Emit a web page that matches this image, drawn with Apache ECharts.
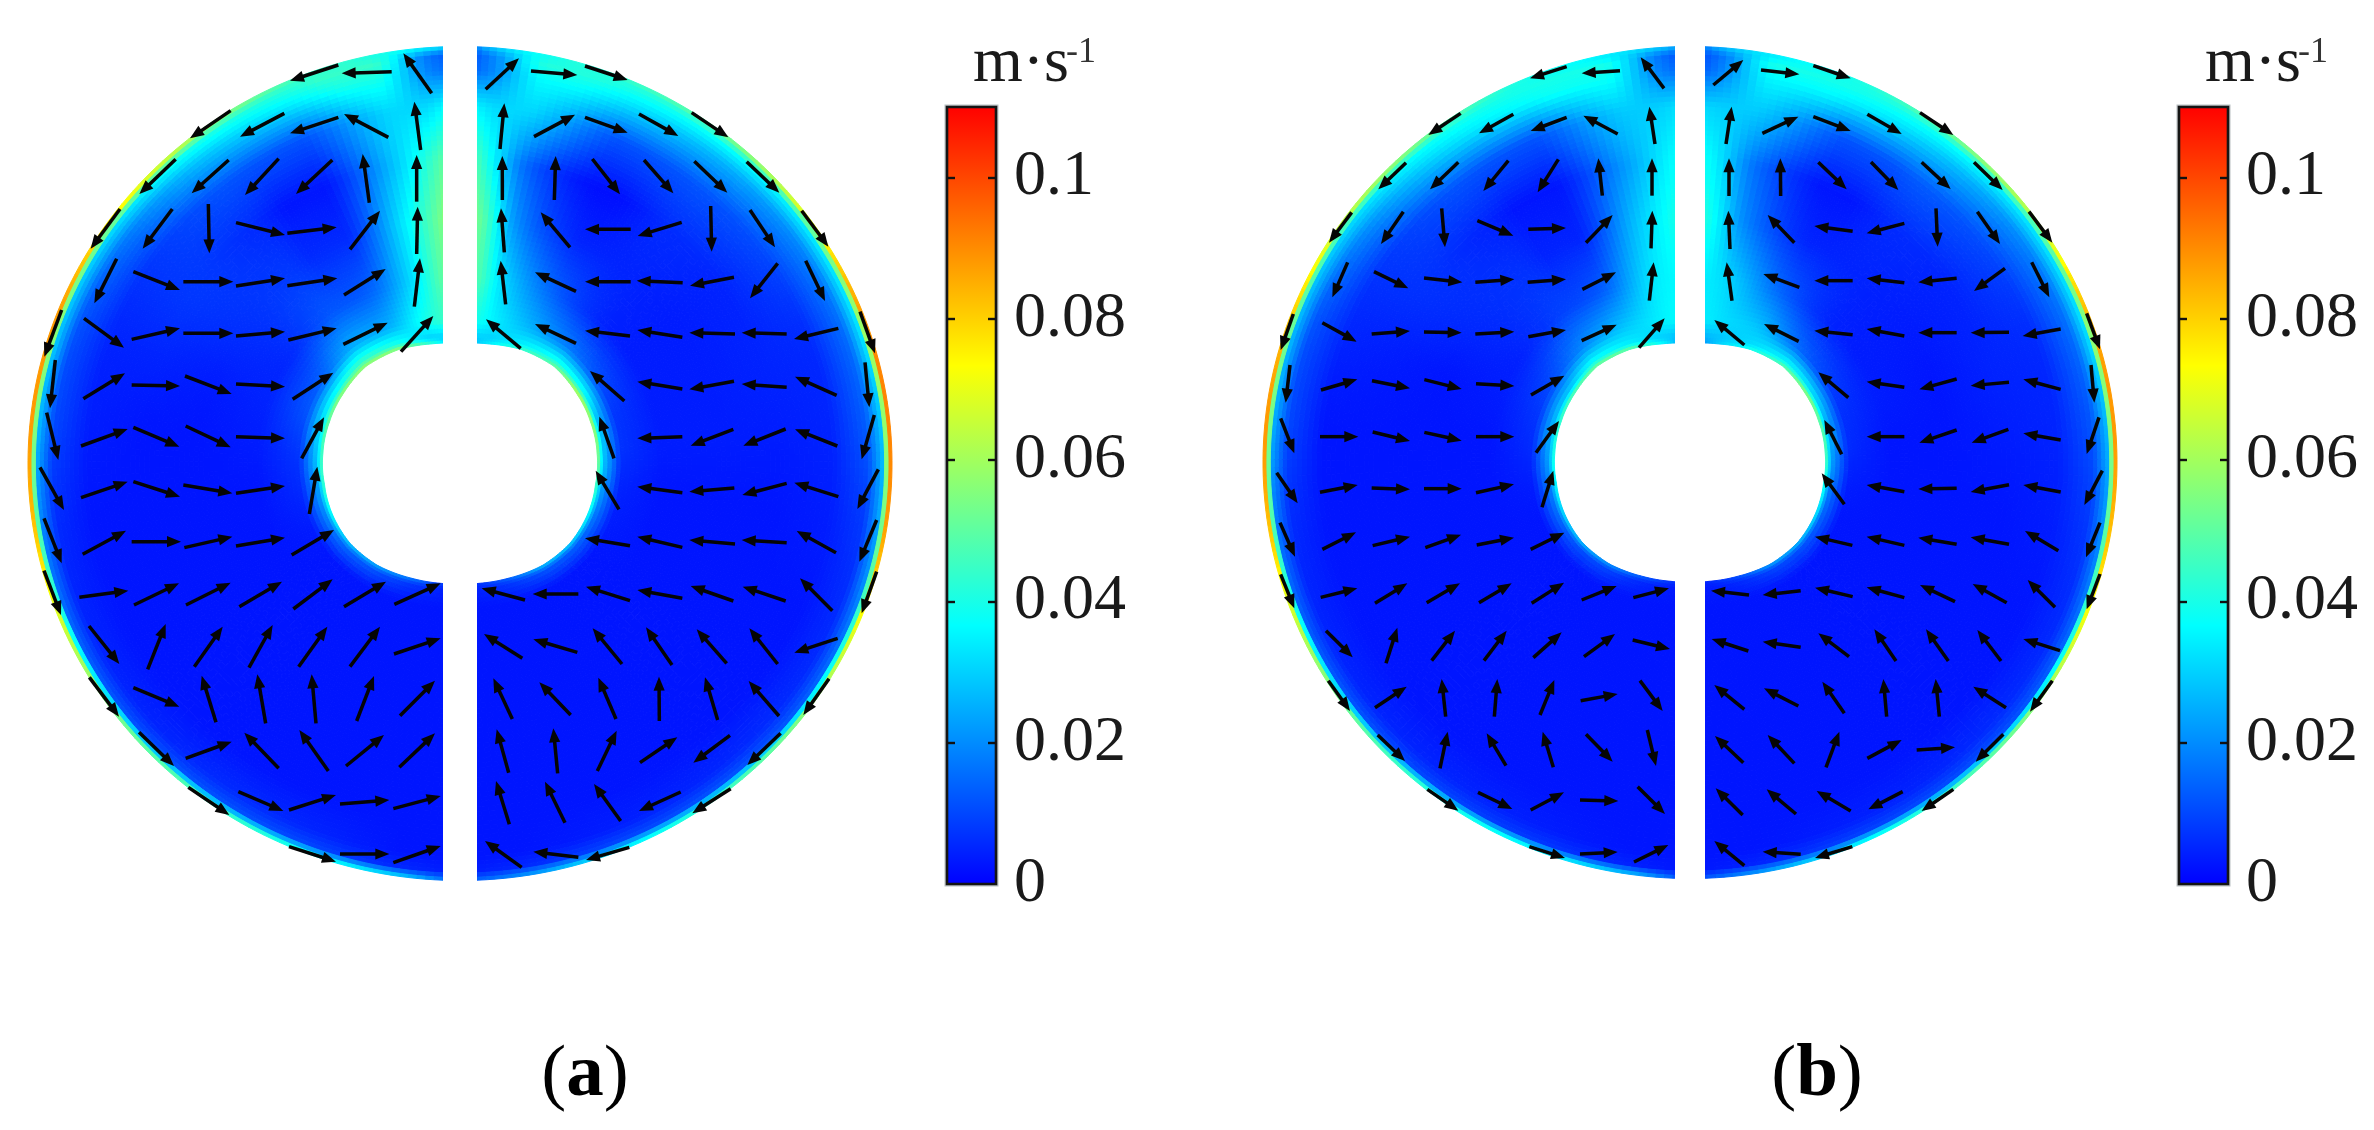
<!DOCTYPE html>
<html><head><meta charset="utf-8">
<style>html,body{margin:0;padding:0;background:#fff}#c{width:2374px;height:1130px}</style>
<script src="https://cdn.jsdelivr.net/npm/echarts@6/dist/echarts.min.js"></script>
</head><body><div id="c"></div>
<script>
// ---- speed scale
const speedTicks = [0, 0.02, 0.04, 0.06, 0.08, 0.1];
const speedMax = 0.11;
const jetStops = ['#0000ff', '#00ffff', '#ffff00', '#ff0000'];
const panelLabels = ['a', 'b'];
const unitText = ['m·s', '-1'];

// ---- mesh of the speed field: rings from hole wall (0) to outer wall (1), spokes in degrees from the top
const ringFractions = [0, .02, .08, .22, .42, .62, .8, .92, .975, .99, 1];
const spokeAngles = [0, 5, 12, 25, 40, 55, 70, 85, 100, 115, 130, 145, 160, 172, 180];
const holeOutline = [1, 1, 1.01, 1.04, 1.05, 1.02, 1, .99, .99, 1.01, 1.03, 1.03, 1.01, 1, 1];

// speed (m/s) read at each ring (row) and spoke (column)
const speedA_left = [
 [.012,.030,.045,.058,.060,.060,.055,.050,.048,.040,.030,.025,.018,.010,.005],
 [.020,.030,.030,.040,.045,.040,.035,.030,.025,.020,.015,.012,.008,.005,.004],
 [.045,.045,.040,.026,.025,.015,.012,.008,.006,.004,.003,.003,.003,.003,.003],
 [.052,.050,.035,.015,.012,.006,.005,.004,.003,.003,.003,.003,.003,.003,.003],
 [.065,.052,.035,.006,.008,.007,.004,.003,.003,.003,.003,.003,.003,.003,.003],
 [.058,.045,.028,.003,.006,.008,.005,.003,.003,.003,.003,.003,.003,.003,.003],
 [.042,.032,.030,.012,.012,.008,.005,.004,.003,.003,.003,.003,.003,.003,.003],
 [.015,.020,.040,.034,.028,.018,.012,.010,.006,.005,.005,.006,.005,.003,.003],
 [.012,.018,.045,.042,.040,.033,.030,.028,.020,.015,.012,.012,.010,.006,.004],
 [.020,.030,.040,.045,.058,.070,.082,.082,.075,.060,.048,.042,.034,.024,.010],
 [.030,.035,.042,.050,.065,.082,.094,.094,.087,.068,.055,.048,.040,.030,.012]];
const speedA_right = [
 [.012,.025,.035,.045,.052,.065,.065,.060,.050,.040,.032,.028,.015,.008,.004],
 [.015,.028,.030,.035,.040,.040,.030,.030,.025,.018,.014,.012,.008,.005,.004],
 [.040,.040,.035,.026,.018,.012,.008,.007,.005,.004,.003,.003,.003,.003,.003],
 [.048,.048,.032,.016,.006,.004,.004,.004,.003,.003,.003,.003,.003,.003,.003],
 [.058,.050,.022,.006,.005,.004,.004,.004,.003,.003,.003,.003,.003,.003,.003],
 [.058,.040,.015,.002,.006,.005,.005,.004,.003,.003,.003,.003,.003,.003,.003],
 [.040,.032,.030,.012,.012,.010,.006,.005,.004,.003,.003,.003,.003,.003,.003],
 [.012,.020,.037,.032,.026,.020,.016,.013,.008,.006,.006,.005,.004,.003,.003],
 [.008,.020,.042,.040,.038,.035,.035,.030,.025,.018,.013,.012,.010,.006,.004],
 [.010,.026,.038,.042,.050,.066,.082,.085,.080,.064,.050,.040,.030,.018,.010],
 [.012,.030,.040,.047,.056,.077,.094,.097,.092,.072,.056,.046,.034,.020,.012]];
const speedB_left = [
 [.010,.024,.038,.052,.054,.052,.048,.044,.040,.034,.028,.022,.014,.008,.004],
 [.014,.026,.030,.035,.038,.030,.028,.025,.020,.016,.012,.010,.006,.004,.003],
 [.032,.036,.034,.028,.020,.012,.008,.006,.004,.003,.003,.003,.003,.003,.003],
 [.036,.036,.032,.014,.009,.005,.004,.003,.003,.003,.003,.003,.003,.003,.003],
 [.042,.038,.028,.005,.007,.006,.003,.003,.003,.003,.003,.003,.003,.003,.003],
 [.040,.034,.022,.003,.005,.007,.004,.003,.003,.003,.003,.003,.003,.003,.003],
 [.034,.030,.028,.012,.012,.008,.005,.003,.003,.003,.003,.003,.003,.003,.003],
 [.014,.020,.038,.036,.030,.020,.012,.010,.006,.005,.005,.005,.004,.003,.003],
 [.010,.018,.040,.040,.038,.032,.028,.026,.018,.014,.012,.010,.008,.005,.003],
 [.016,.026,.034,.040,.050,.060,.075,.082,.075,.058,.046,.038,.032,.022,.008],
 [.020,.030,.036,.042,.056,.070,.087,.094,.087,.066,.052,.042,.036,.026,.010]];
const speedB_right = [
 [.010,.020,.030,.040,.050,.060,.056,.052,.044,.036,.028,.024,.012,.006,.003],
 [.012,.024,.028,.032,.036,.034,.028,.025,.020,.015,.012,.010,.006,.004,.003],
 [.030,.034,.032,.028,.016,.010,.007,.006,.004,.003,.003,.003,.003,.003,.003],
 [.034,.034,.030,.016,.006,.004,.004,.003,.003,.003,.003,.003,.003,.003,.003],
 [.044,.038,.020,.006,.005,.004,.003,.003,.003,.003,.003,.003,.003,.003,.003],
 [.042,.034,.016,.003,.006,.005,.005,.004,.003,.003,.003,.003,.003,.003,.003],
 [.032,.030,.028,.012,.013,.010,.006,.005,.004,.003,.003,.003,.003,.003,.003],
 [.010,.020,.036,.034,.028,.020,.016,.012,.008,.006,.006,.005,.004,.003,.003],
 [.008,.018,.040,.040,.038,.034,.034,.028,.022,.016,.012,.011,.009,.005,.003],
 [.010,.024,.034,.040,.050,.060,.078,.082,.076,.064,.050,.040,.030,.018,.008],
 [.012,.028,.036,.042,.056,.070,.090,.094,.088,.072,.056,.046,.034,.020,.010]];

// ---- velocity arrows read per quadrant: [tailX, tailY, tipX, tipY]
const arrowsA_TL = [[1295,220,1210,100],[1175,155,1025,160],[1015,135,870,182],[1262,390,1243,245],[1165,352,1032,282],[1015,292,870,340],[853,280,720,350],[692,272,570,355],[1250,545,1250,405],[1108,548,1088,402],[997,420,888,522],[836,416,735,525],[686,420,575,520],[527,418,418,522],[1250,702,1253,560],[1050,688,1140,572],[862,640,1010,622],[708,608,855,645],[625,552,628,700],[517,567,428,686],[360,567,272,686],[1243,860,1260,715],[1032,825,1157,747],[862,797,1012,775],[708,798,855,775],[550,785,700,785],[400,755,540,810],[350,716,283,850],[185,870,133,1010],[1203,995,1300,888],[1030,973,1163,908],[865,960,1010,925],[708,948,855,935],[550,940,700,940],[395,958,540,925],[252,895,372,983],[878,1138,1000,1058],[708,1092,855,1100],[555,1068,695,1122],[395,1095,540,1098],[250,1136,375,1060],[166,1020,150,1165],[905,1315,972,1192],[708,1250,855,1255],[557,1218,692,1282],[400,1222,538,1280],[243,1278,383,1227],[140,1178,175,1320]];
const arrowsA_BL = [[928,192,952,50],[708,130,855,108],[550,105,697,130],[400,95,540,140],[243,143,383,95],[120,52,192,180],[875,315,1002,240],[708,288,855,263],[553,293,697,260],[395,275,543,275],[248,313,378,242],[132,205,185,340],[1183,463,1322,400],[1032,470,1158,395],[880,477,998,388],[718,470,846,395],[558,465,692,398],[402,465,537,400],[238,442,385,422],[132,362,183,495],[1182,612,1322,565],[1050,650,1140,530],[896,650,982,530],[747,653,818,525],[583,650,668,530],[443,658,497,522],[267,528,358,642],[1200,797,1305,692],[1070,813,1122,678],[948,820,935,673],[797,820,772,673],[648,817,605,677],[400,713,538,770],[268,682,357,800],[1198,952,1305,850],[1038,948,1152,855],[985,963,898,840],[836,955,733,848],[557,925,695,875],[417,847,522,948],[1180,1076,1322,1038],[1020,1062,1168,1050],[867,1080,1008,1035],[715,1025,850,1083],[565,1012,688,1095],[1180,1238,1322,1188],[1020,1212,1168,1212],[867,1190,1008,1235]];
const arrowsA_TR = [[77,208,177,115],[213,153,352,165],[375,138,503,180],[120,387,133,250],[222,350,345,284],[375,292,503,338],[537,282,655,348],[695,278,805,352],[127,540,127,408],[283,540,287,408],[397,417,480,523],[552,420,640,520],[703,424,802,518],[860,425,958,518],[133,697,123,565],[330,682,242,577],[512,628,375,628],[665,607,533,648],[752,558,755,695],[870,570,945,682],[1025,572,1105,680],[137,853,122,722],[348,814,225,757],[512,785,375,785],[668,788,530,782],[822,772,690,797],[953,730,870,835],[1037,722,1095,843],[1200,875,1245,1000],[182,985,78,898],[348,970,225,912],[510,948,375,932],[667,952,532,930],[825,942,688,938],[980,942,845,938],[1135,925,1002,957],[493,1143,390,1053],[667,1107,532,1085],[822,1084,688,1108],[980,1102,845,1092],[1130,1126,1005,1070],[1215,1027,1228,1162],[462,1315,418,1190],[667,1250,532,1255],[820,1228,692,1277],[977,1227,850,1277],[1132,1278,1005,1228],[1243,1185,1205,1318]];
const arrowsA_BR = [[477,178,407,62],[667,128,532,110],[823,114,688,125],[980,100,847,135],[1135,140,1003,98],[1255,58,1192,177],[510,287,375,265],[667,292,532,260],[825,282,688,270],[980,278,845,270],[1128,308,1010,243],[1250,210,1198,335],[195,450,65,415],[355,432,218,432],[510,452,378,410],[667,445,532,420],[820,453,692,408],[977,453,848,410],[1117,482,1020,385],[1250,365,1205,490],[187,625,72,552],[352,607,220,568],[486,642,398,535],[636,645,558,532],[800,640,710,538],[953,642,868,535],[1133,565,1003,608],[157,807,100,685],[332,795,238,697],[468,807,415,683],[598,813,597,680],[773,810,735,682],[957,798,866,693],[1107,686,1030,795],[146,968,110,838],[293,970,280,835],[412,963,470,842],[540,938,652,862],[810,856,700,938],[962,850,862,945],[148,1123,108,993],[315,1118,255,995],[482,1113,402,1002],[662,1026,537,1083],[812,1016,697,1090],[185,1252,75,1173],[355,1222,220,1205],[508,1192,378,1230]];
const arrowsB_TL = [[1272,205,1202,112],[1140,152,1025,160],[980,140,870,175],[1245,372,1228,260],[1133,342,1030,287],[980,292,872,333],[820,283,717,340],[662,280,565,345],[1236,527,1236,415],[1087,527,1075,415],[955,418,893,517],[805,422,730,513],[655,427,570,508],[498,428,415,508],[1233,685,1237,572],[1038,668,1118,585],[865,628,978,624],[712,602,820,647],[605,565,615,682],[490,575,423,672],[335,577,267,668],[1228,842,1241,727],[1027,808,1128,757],[863,787,978,778],[706,787,823,778],[552,774,667,787],[402,755,505,805],[323,727,277,832],[160,882,122,990],[1197,983,1274,895],[1025,962,1130,914],[865,950,978,930],[706,942,823,935],[552,936,665,938],[395,942,510,933],[247,908,350,965],[873,1125,973,1067],[708,1091,823,1098],[553,1079,665,1107],[396,1082,510,1105],[243,1110,352,1078],[150,1035,137,1148],[888,1298,957,1203],[708,1250,823,1250],[553,1237,665,1262],[398,1236,510,1263],[240,1250,355,1250],[122,1195,163,1300]];
const arrowsB_BL = [[906,172,940,62],[708,128,822,103],[552,116,665,116],[395,114,510,118],[240,127,353,105],[110,68,173,160],[872,298,973,248],[710,285,822,263],[556,293,663,254],[398,287,510,260],[247,298,348,247],[120,218,165,320],[1180,443,1287,415],[1025,450,1130,408],[875,460,972,398],[717,458,815,400],[560,458,660,400],[405,460,502,400],[242,442,352,415],[122,373,163,475],[1178,570,1290,597],[1032,620,1125,552],[880,623,965,547],[732,632,800,542],[575,632,645,542],[438,640,472,533],[258,542,338,622],[1200,692,1268,783],[1022,752,1133,732],[900,795,943,690],[763,800,772,687],[617,800,605,687],[405,773,500,710],[265,692,330,783],[1222,840,1248,948],[1038,853,1118,935],[940,952,908,845],[798,947,740,850],[600,955,623,845],[413,855,495,933],[1193,1010,1275,1092],[1020,1050,1135,1053],[872,1080,972,1027],[714,1027,817,1077],[562,1018,655,1082],[1182,1236,1285,1185],[1020,1212,1133,1206],[868,1190,975,1224]];
const arrowsB_TR = [[70,195,160,120],[213,150,328,163],[370,137,482,175],[108,372,125,260],[217,340,325,290],[370,290,482,333],[532,283,635,342],[690,278,790,345],[117,528,117,415],[272,528,271,415],[385,427,470,508],[543,426,625,510],[695,427,782,507],[852,427,938,510],[120,687,115,572],[313,668,233,585],[488,634,373,618],[643,610,530,640],[738,565,743,680],[862,575,930,672],[1017,575,1087,668],[126,842,110,727],[328,802,220,762],[488,782,373,782],[643,788,530,775],[800,775,685,787],[945,745,852,813],[1025,727,1078,832],[1190,880,1230,988],[163,975,73,900],[326,964,222,912],[488,944,373,932],[643,948,530,927],[800,938,685,938],[957,937,842,938],[1112,927,998,948],[475,1133,385,1057],[643,1102,530,1085],[800,1077,688,1108],[957,1087,842,1097],[1112,1108,1000,1078],[1203,1035,1213,1148],[455,1303,403,1200],[643,1250,530,1250],[800,1230,688,1268],[955,1228,845,1268],[1112,1260,1000,1240],[1227,1192,1190,1302]];
const arrowsB_BR = [[463,163,395,70],[643,125,530,105],[800,115,685,117],[957,104,842,126],[1112,126,1000,105],[1237,62,1183,165],[487,286,375,260],[643,286,530,260],[800,283,685,263],[957,283,842,262],[1105,302,1005,243],[1230,218,1188,322],[177,435,63,422],[332,422,218,435],[488,440,375,413],[643,443,530,412],[795,455,690,405],[950,458,848,402],[1095,472,1013,390],[1230,372,1190,478],[175,603,65,567],[332,592,218,575],[477,620,385,550],[618,633,553,538],[775,633,708,538],[933,633,862,540],[1110,602,1000,567],[163,778,73,705],[325,768,222,715],[463,790,397,695],[590,800,580,687],[748,800,737,687],[948,773,850,710],[1087,692,1020,785],[160,938,75,858],[313,940,233,855],[408,952,448,845],[532,925,635,870],[680,900,795,892],[940,853,857,935],[158,1095,77,1015],[318,1092,230,1018],[482,1083,380,1023],[638,1025,535,1078],[790,1018,695,1083],[163,1247,73,1173],[332,1213,218,1205],[487,1190,375,1224]];

// ---- layout
const TEXT_FONT = '"Liberation Serif", serif';
const panels = [
 {cx:460, cy:463.5, rx:432, ry:417, hx:139, hy:121, slot:17, barX:947, left:speedA_left, right:speedA_right,
  quads:[[arrowsA_TL,0,20],[arrowsA_TR,460,20],[arrowsA_BL,0,450],[arrowsA_BR,460,450]], labelX:585},
 {cx:1690, cy:462.5, rx:427, ry:416, hx:137, hy:120, slot:15, barX:2179, left:speedB_left, right:speedB_right,
  quads:[[arrowsB_TL,1240,20],[arrowsB_TR,1690,20],[arrowsB_BL,1240,450],[arrowsB_BR,1690,450]], labelX:1817}
];
const HALF = 450, BAR_TOP = 107, BAR_H = 777, BAR_W = 49;

function speedColor(v){
  const t = Math.max(0, Math.min(1, v/speedMax)) * (jetStops.length-1);
  const i = Math.min(jetStops.length-2, Math.floor(t)), f = t-i;
  const h = s => [parseInt(s.slice(1,3),16), parseInt(s.slice(3,5),16), parseInt(s.slice(5,7),16)];
  const a = h(jetStops[i]), b = h(jetStops[i+1]);
  return 'rgb(' + a.map((c,k)=>Math.round(c+(b[k]-c)*f)).join(',') + ')';
}
// smooth shading between the read spokes (Hermite across angle, straight across rings)
function spokeShade(row, s, w){
  const a = spokeAngles, n = a.length-1;
  const slope = k => k<=0 ? (row[1]-row[0])/(a[1]-a[0]) : k>=n ? (row[n]-row[n-1])/(a[n]-a[n-1]) : (row[k+1]-row[k-1])/(a[k+1]-a[k-1]);
  const h = a[s+1]-a[s], w2=w*w, w3=w2*w;
  const lo = Math.min(row[s],row[s+1]), hi = Math.max(row[s],row[s+1]);
  const v = (2*w3-3*w2+1)*row[s] + (w3-2*w2+w)*h*slope(s) + (-2*w3+3*w2)*row[s+1] + (w3-w2)*h*slope(s+1);
  return Math.max(lo, Math.min(hi, v));
}
function holeScale(deg){
  let k = 0; while(k<spokeAngles.length-2 && deg>spokeAngles[k+1]) k++;
  const f = (deg-spokeAngles[k])/(spokeAngles[k+1]-spokeAngles[k]);
  return holeOutline[k]+(holeOutline[k+1]-holeOutline[k])*f;
}

function heatSeries(p, idx){
  const cells = [];
  [0,1].forEach(sideIdx=>{
    for(let r=0;r<ringFractions.length-1;r++) for(let s=0;s<spokeAngles.length-1;s++) cells.push([sideIdx,r,s]);
  });
  const pt = (side,ring,deg)=>{
    const a = deg*Math.PI/180, q = holeScale(deg);
    return [side*(p.hx*q+(p.rx-p.hx*q)*ring)*Math.sin(a), (p.hy*q+(p.ry-p.hy*q)*ring)*Math.cos(a)];
  };
  return {
    type:'custom', xAxisIndex:idx, yAxisIndex:idx, silent:true, animation:false, progressive:0, clip:false, z:2,
    data:cells,
    renderItem(params, api){
      const sideIdx = api.value(0), r = api.value(1), s = api.value(2);
      const side = sideIdx ? 1 : -1, m = sideIdx ? p.right : p.left;
      const r0 = ringFractions[r], r1 = ringFractions[r+1], a0 = spokeAngles[s], a1 = spokeAngles[s+1];
      const ns = Math.max(1, Math.ceil((r1-r0)*(p.rx-p.hx)/5));
      const nt = Math.max(3, Math.ceil((a1-a0)/1.2));
      const children = [];
      for(let j=0;j<nt;j++){
        const wc=(j+.5)/nt, lo=spokeShade(m[r],s,wc), hi=spokeShade(m[r+1],s,wc);
        const A0=a0+(a1-a0)*j/nt, A1=a0+(a1-a0)*(j+1)/nt;
        for(let i=0;i<ns;i++){
          const uc=(i+.5)/ns, v=lo+(hi-lo)*uc;
          const R0=r0+(r1-r0)*i/ns, R1=r0+(r1-r0)*(i+1)/ns;
          const c = speedColor(v);
          children.push({type:'polygon', silent:true,
            shape:{points:[pt(side,R0,A0),pt(side,R1,A0),pt(side,R1,A1),pt(side,R0,A1)].map(q=>api.coord(q))},
            style:{fill:c, stroke:c, lineWidth:1}});
        }
      }
      return {type:'group', children};
    }
  };
}
function slotSeries(p, idx){
  return {type:'custom', xAxisIndex:idx, yAxisIndex:idx, silent:true, animation:false, clip:false, z:3,
    data:[[-p.slot, HALF, p.slot, -HALF]],
    renderItem(params, api){
      const a = api.coord([api.value(0),api.value(1)]), b = api.coord([api.value(2),api.value(3)]);
      return {type:'rect', shape:{x:a[0],y:a[1],width:b[0]-a[0],height:b[1]-a[1]}, style:{fill:'#fff'}};
    }};
}
function arrowSeries(p, idx){
  const data = [];
  p.quads.forEach(([list,ox,oy])=>list.forEach(q=>{
    data.push([q[0]/3+ox-p.cx, -(q[1]/3+oy-p.cy), q[2]/3+ox-p.cx, -(q[3]/3+oy-p.cy)]);
  }));
  return {type:'custom', xAxisIndex:idx, yAxisIndex:idx, silent:true, animation:false, clip:false, z:4,
    encode:{x:[0,2], y:[1,3]}, data,
    renderItem(params, api){
      const a = api.coord([api.value(0),api.value(1)]), b = api.coord([api.value(2),api.value(3)]);
      const dx=b[0]-a[0], dy=b[1]-a[1], L=Math.hypot(dx,dy)||1, ux=dx/L, uy=dy/L;
      const hl=14, hw=5.6, bx=b[0]-ux*hl, by=b[1]-uy*hl;
      return {type:'group', children:[
        {type:'line', shape:{x1:a[0],y1:a[1],x2:bx+ux*2,y2:by+uy*2}, style:{stroke:'#050505',lineWidth:3.5}},
        {type:'polygon', shape:{points:[[b[0],b[1]],[bx-uy*hw,by+ux*hw],[bx+uy*hw,by-ux*hw]]}, style:{fill:'#050505'}}
      ]};
    }};
}
function barSeries(xi, yi){
  return {type:'custom', xAxisIndex:xi, yAxisIndex:yi, silent:true, animation:false, clip:false, z:2,
    data:[[0, speedMax, 1, 0]],
    renderItem(params, api){
      const a = api.coord([api.value(0),api.value(1)]), b = api.coord([api.value(2),api.value(3)]);
      const shape = {x:a[0],y:a[1],width:b[0]-a[0],height:b[1]-a[1]};
      const stops = jetStops.map((c,i)=>({offset:1-i/(jetStops.length-1), color:c})).reverse();
      return {type:'group', children:[
        {type:'rect', shape:{x:shape.x-1.5,y:shape.y-1.5,width:shape.width+3,height:shape.height+3}, style:{fill:'none',stroke:'#b9bfc2',lineWidth:2}},
        {type:'rect', shape, style:{fill:new echarts.graphic.LinearGradient(0,0,0,1,stops), stroke:'#151515', lineWidth:2.6}}
      ]};
    }};
}

const grid=[], xAxis=[], yAxis=[], series=[], graphic=[];
panels.forEach((p,i)=>{
  grid.push({left:p.cx-HALF, top:p.cy-HALF, width:2*HALF, height:2*HALF, show:false});
  xAxis.push({type:'value', gridIndex:i, min:-HALF, max:HALF, show:false});
  yAxis.push({type:'value', gridIndex:i, min:-HALF, max:HALF, show:false});
});
panels.forEach((p,i)=>{
  const gi = 2+i;
  grid.push({left:p.barX, top:BAR_TOP, width:BAR_W, height:BAR_H, show:false});
  xAxis.push({type:'value', gridIndex:gi, min:0, max:1, show:false});
  const tick = {show:true, inside:true, length:8, lineStyle:{color:'#111',width:2.4}, customValues:speedTicks.slice(1)};
  yAxis.push({type:'value', gridIndex:gi, position:'left', min:0, max:speedMax, z:6, splitLine:{show:false},
    axisLine:{show:false}, axisLabel:{show:false}, axisTick:tick});
  yAxis.push({type:'value', gridIndex:gi, position:'right', min:0, max:speedMax, z:6, splitLine:{show:false},
    axisLine:{show:false}, axisTick:tick,
    axisLabel:{show:true, margin:18, color:'#1a1a1a', fontFamily:TEXT_FONT, fontSize:64, customValues:speedTicks, hideOverlap:false,
      formatter:v=>String(v)}});
});
panels.forEach((p,i)=>{
  series.push(heatSeries(p,i), slotSeries(p,i), arrowSeries(p,i));
  series.push(barSeries(2+i, 2+2*i));
  const ux = p.barX+26;
  graphic.push({type:'text', x:ux, y:64, silent:true, style:{text:unitText[0], fill:'#1a1a1a', font:'64px '+TEXT_FONT, textAlign:'left', textVerticalAlign:'middle'}});
  graphic.push({type:'text', x:ux+93, y:53, silent:true, style:{text:unitText[1], fill:'#333', font:'36px '+TEXT_FONT, textAlign:'left', textVerticalAlign:'middle'}});
  graphic.push({type:'text', x:p.labelX, y:1076, silent:true, style:{
    text:'{n|(}{b|'+panelLabels[i]+'}{n|)}', textAlign:'center', textVerticalAlign:'middle', fill:'#000',
    rich:{n:{font:'75px '+TEXT_FONT, fill:'#000'}, b:{font:'bold 75px '+TEXT_FONT, fill:'#000'}}}});
});

const chart = echarts.init(document.getElementById('c'), null, {renderer:'canvas', width:2374, height:1130});
chart.setOption({animation:false, backgroundColor:'#fff', grid, xAxis, yAxis, series, graphic:{elements:graphic}});
</script></body></html>
